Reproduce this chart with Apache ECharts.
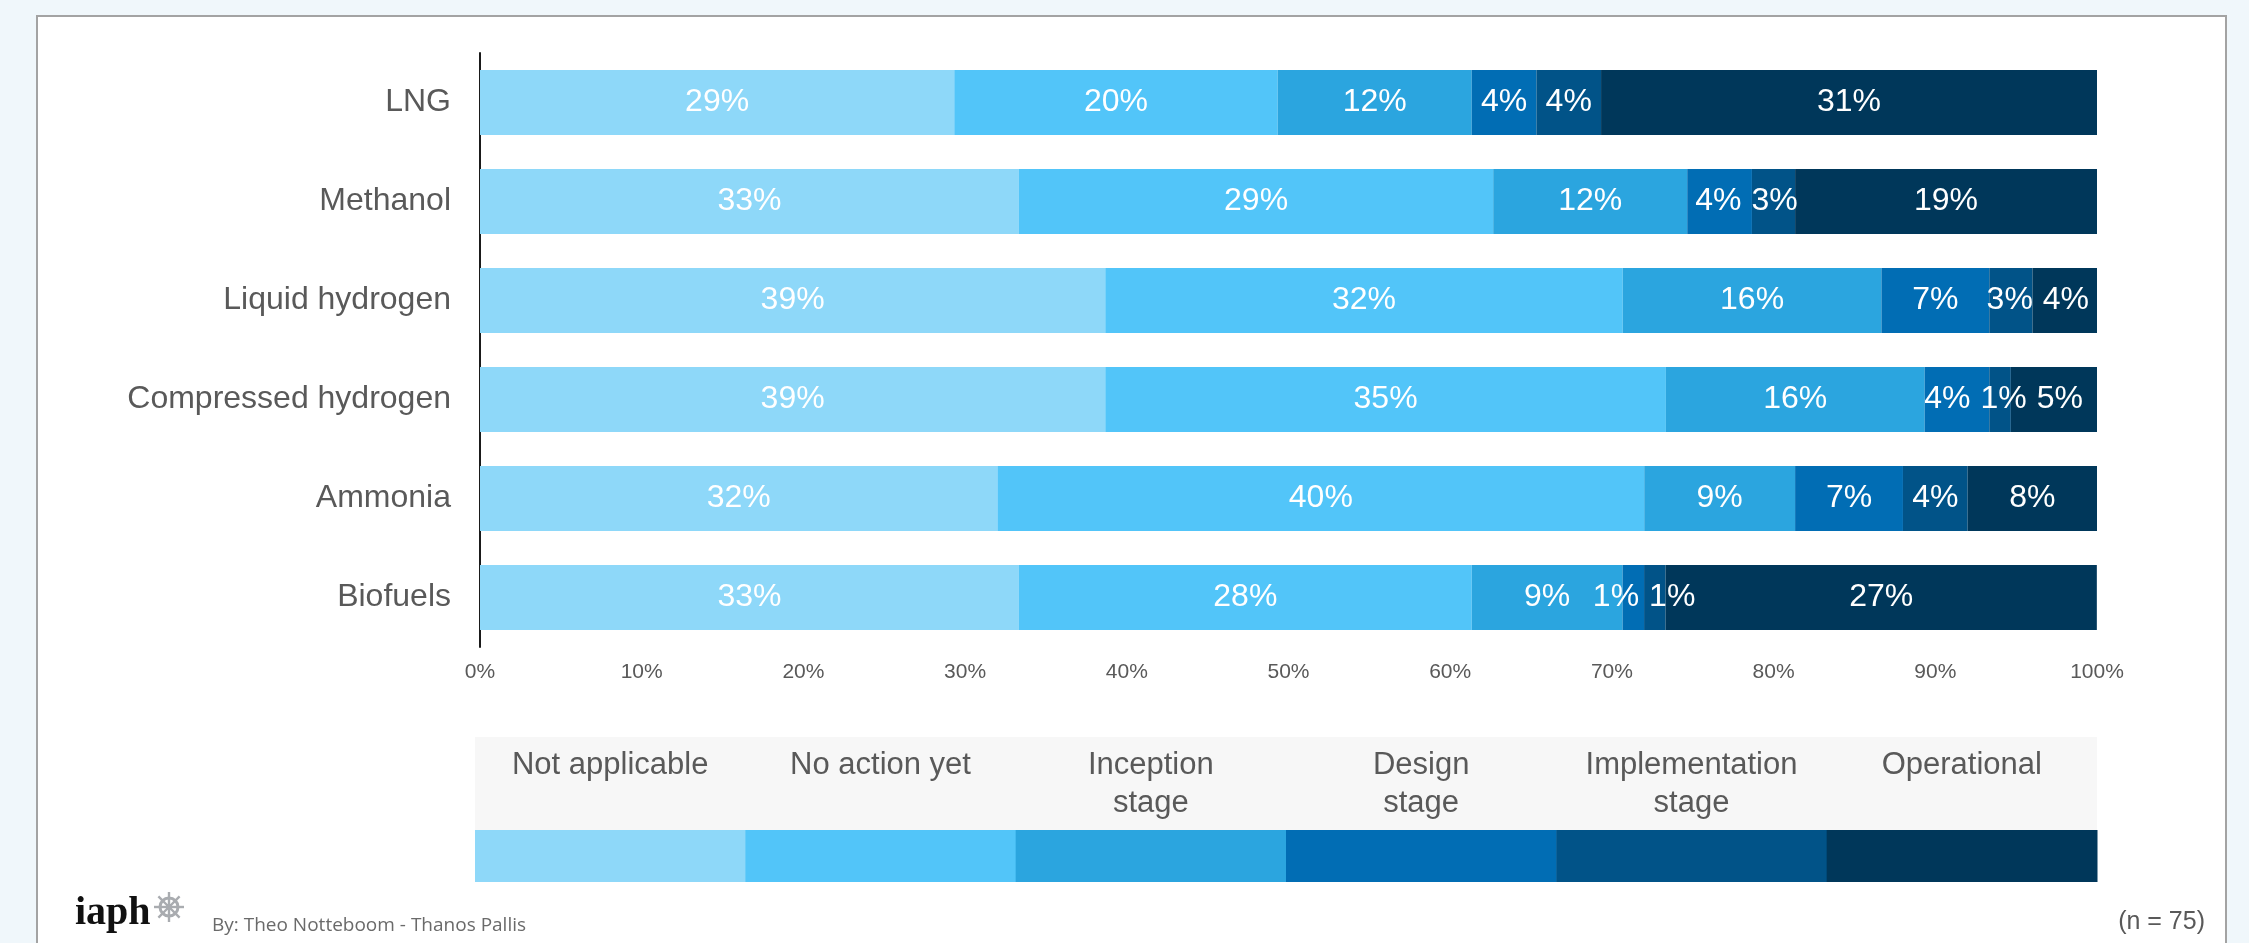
<!DOCTYPE html>
<html>
<head>
<meta charset="utf-8">
<title>Alternative fuels – stage of bunkering readiness</title>
<script src="https://cdn.jsdelivr.net/npm/echarts@6/dist/echarts.min.js"></script>
<style>
  html, body { margin: 0; padding: 0; background: #f0f7fb; overflow: hidden; }
  #card {
    position: absolute; left: 36px; top: 15px; width: 2191px; height: 1000px;
    background: #ffffff; border: 2px solid #a3a3a3; box-sizing: border-box;
  }
  #chart { position: absolute; left: 0; top: 0; width: 2249px; height: 943px; }
</style>
</head>
<body>
<div id="card"></div>
<div id="chart"></div>
<script>
// Fuels surveyed (top to bottom)
const categories = ['LNG', 'Methanol', 'Liquid hydrogen', 'Compressed hydrogen', 'Ammonia', 'Biofuels'];

// Share of respondents per stage, in percent (n = 75)
const notApplicable       = [29.33, 33.33, 38.67, 38.67, 32.00, 33.33];
const noActionYet         = [20.00, 29.33, 32.00, 34.67, 40.00, 28.00];
const inceptionStage      = [12.00, 12.00, 16.00, 16.00,  9.33,  9.33];
const designStage         = [ 4.00,  4.00,  6.67,  4.00,  6.67,  1.33];
const implementationStage = [ 4.00,  2.67,  2.67,  1.33,  4.00,  1.33];
const operational         = [30.67, 18.67,  4.00,  5.33,  8.00, 26.67];

const stageNames = ['Not applicable', 'No action yet', 'Inception\nstage', 'Design\nstage', 'Implementation\nstage', 'Operational'];
const stageColors = ['#8ed8f9', '#52c5f9', '#2ba5df', '#016db4', '#015388', '#00375a'];

const xTicks = [0, 10, 20, 30, 40, 50, 60, 70, 80, 90, 100];
const sampleNote = '(n = 75)';
const credit = 'By: Theo Notteboom - Thanos Pallis';

const stageValues = [notApplicable, noActionYet, inceptionStage, designStage, implementationStage, operational];

const FONT = 'Arial, "Liberation Sans", Helvetica, sans-serif';
const LABEL_SIZE = 32;
const GRID = { left: 480, top: 53, right: 152, bottom: 296 };
const plotWidth = 2249 - GRID.left - GRID.right;

const fmtPct = v => Math.round(v) + '%';

// Push apart value labels that would collide inside thin neighbouring segments
const measureCtx = document.createElement('canvas').getContext('2d');
measureCtx.font = LABEL_SIZE + 'px ' + FONT;
function rowLabelOffsets(i) {
  const pxPerUnit = plotWidth / (xTicks[xTicks.length - 1] - xTicks[0]);
  let acc = 0;
  const items = stageValues.map(vals => {
    const v = vals[i];
    const centre = (acc + v / 2) * pxPerUnit;
    acc += v;
    return { base: centre, pos: centre, w: measureCtx.measureText(fmtPct(v)).width };
  });
  const gap = 10;
  for (let pass = 0; pass < 30; pass++) {
    let moved = false;
    for (let s = 1; s < items.length; s++) {
      const a = items[s - 1], b = items[s];
      const need = (a.w + b.w) / 2 + gap;
      const d = need - (b.pos - a.pos);
      if (d > 0.01) { a.pos -= d / 2; b.pos += d / 2; moved = true; }
    }
    if (!moved) break;
  }
  return items.map(it => [it.pos - it.base, 0]);
}
const labelOffsets = categories.map((_, i) => rowLabelOffsets(i));

const series = stageValues.map((vals, s) => ({
  name: stageNames[s].replace('\n', ' '),
  type: 'bar',
  stack: 'total',
  barWidth: 65,
  itemStyle: { color: stageColors[s] },
  emphasis: { disabled: true },
  label: {
    show: true,
    position: 'inside',
    color: '#ffffff',
    fontSize: LABEL_SIZE,
    fontFamily: FONT,
    formatter: p => fmtPct(p.value)
  },
  data: vals.map((v, i) => ({ value: v, label: { offset: labelOffsets[i][s] } }))
}));

// Stage key under the chart: grey title band above a strip of colour swatches
const keyLeft = 475, keyRight = 2097, keyTop = 737, keyBandH = 93, swatchH = 52;
const keyW = (keyRight - keyLeft) / stageNames.length;
const graphics = [{
  type: 'rect', silent: true,
  shape: { x: keyLeft, y: keyTop, width: keyRight - keyLeft, height: keyBandH },
  style: { fill: '#f7f7f7' }
}];
stageNames.forEach((name, k) => {
  graphics.push({
    type: 'rect', silent: true,
    shape: { x: keyLeft + k * keyW, y: keyTop + keyBandH, width: keyW + 0.5, height: swatchH },
    style: { fill: stageColors[k] }
  });
  graphics.push({
    type: 'text', silent: true,
    x: keyLeft + (k + 0.5) * keyW, y: keyTop + 9,
    style: {
      text: name, align: 'center', verticalAlign: 'top',
      fontSize: 31, lineHeight: 38, fontFamily: FONT, fill: '#595959'
    }
  });
});

// Footer: IAPH wordmark with ship's wheel, credit and sample size
const wheel = { cx: 169, cy: 907 };
const wheelParts = [
  { type: 'circle', shape: { cx: wheel.cx, cy: wheel.cy, r: 9 }, style: { fill: 'none', stroke: '#a9acb0', lineWidth: 3 } },
  { type: 'circle', shape: { cx: wheel.cx, cy: wheel.cy, r: 3.2 }, style: { fill: '#a9acb0' } }
];
for (let a = 0; a < 8; a++) {
  const t = a * Math.PI / 4;
  wheelParts.push({
    type: 'line',
    shape: { x1: wheel.cx, y1: wheel.cy, x2: wheel.cx + 15 * Math.cos(t), y2: wheel.cy + 15 * Math.sin(t) },
    style: { stroke: '#a9acb0', lineWidth: 2.4 }
  });
}
graphics.push({ type: 'group', silent: true, children: wheelParts });
graphics.push({
  type: 'text', silent: true, x: 75, y: 914,
  style: { text: 'iaph', fontSize: 40, fontWeight: 'bold', fontFamily: '"Liberation Serif", "DejaVu Serif", serif', fill: '#111111', verticalAlign: 'middle' }
});
graphics.push({
  type: 'text', silent: true, x: 212, y: 926,
  style: { text: credit, fontSize: 19, fontFamily: '"Open Sans", "Noto Sans", sans-serif', fill: '#6a6a6a', verticalAlign: 'middle' }
});
graphics.push({
  type: 'text', silent: true, x: 2205, y: 922,
  style: { text: sampleNote, fontSize: 25, fontFamily: FONT, fill: '#595959', align: 'right', verticalAlign: 'middle' }
});

const chart = echarts.init(document.getElementById('chart'), null, { renderer: 'canvas' });
chart.setOption({
  animation: false,
  backgroundColor: 'transparent',
  grid: GRID,
  xAxis: {
    type: 'value',
    min: xTicks[0],
    max: xTicks[xTicks.length - 1],
    interval: xTicks[1] - xTicks[0],
    axisLine: { show: false },
    axisTick: { show: false },
    splitLine: { show: false },
    axisLabel: { formatter: '{value}%', fontSize: 21, color: '#595959', fontFamily: FONT, margin: 15 }
  },
  yAxis: {
    type: 'category',
    inverse: true,
    data: categories,
    axisLine: { show: true, lineStyle: { color: '#1a1a1a', width: 2 } },
    axisTick: { show: false },
    axisLabel: { fontSize: 32, color: '#595959', fontFamily: FONT, margin: 29 }
  },
  series: series,
  graphic: graphics
});
</script>
</body>
</html>
